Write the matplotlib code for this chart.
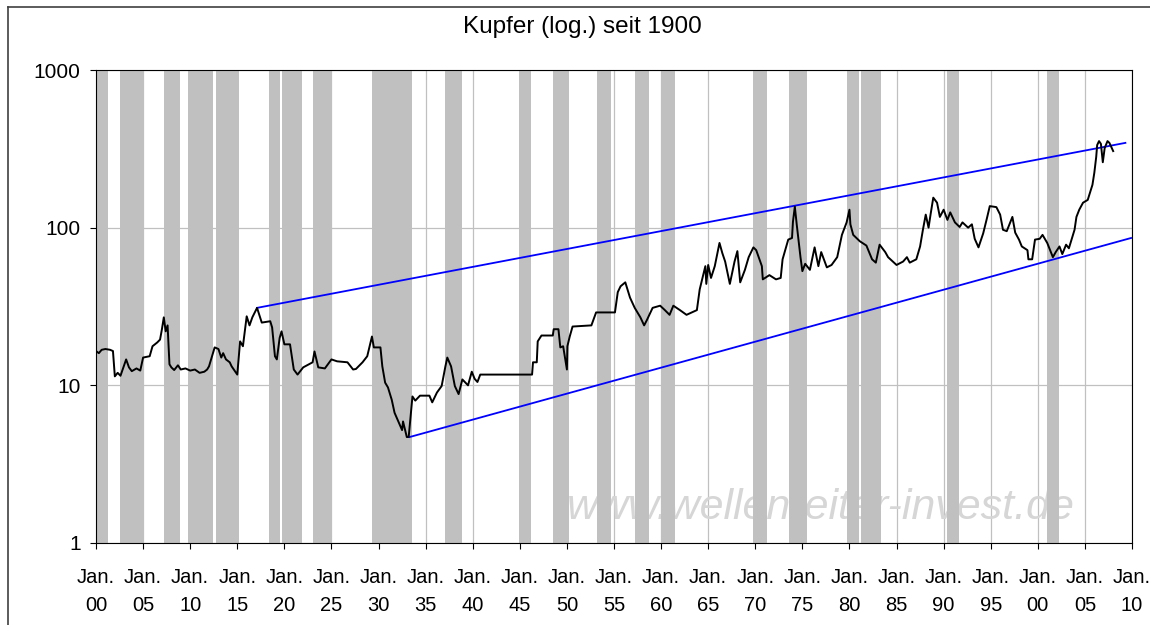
import matplotlib
matplotlib.use('Agg')
import matplotlib.pyplot as plt
from matplotlib.lines import Line2D

plt.rcParams['font.family'] = ['Liberation Sans', 'DejaVu Sans']

# copper price (year, value)
years = [1900.0, 1900.3, 1900.6, 1901.0, 1901.5, 1901.8, 1902.0, 1902.3, 1902.6, 1903.0,
         1903.2, 1903.5, 1903.8, 1904.3, 1904.7, 1905.0, 1905.7, 1906.0, 1906.5, 1906.8,
         1907.0, 1907.2, 1907.4, 1907.6, 1907.8, 1908.0, 1908.3, 1908.7, 1909.0, 1909.5,
         1910.0, 1910.5, 1911.0, 1911.5, 1911.8, 1912.0, 1912.6, 1913.0, 1913.3, 1913.5,
         1913.8, 1914.2, 1914.4, 1915.0, 1915.3, 1915.6, 1916.0, 1916.3, 1916.6, 1917.1,
         1917.6, 1918.5, 1918.7, 1919.0, 1919.2, 1919.5, 1919.7, 1920.0, 1920.6, 1921.0,
         1921.4, 1922.0, 1922.5, 1923.0, 1923.2, 1923.6, 1924.3, 1925.0, 1925.6, 1926.7,
         1927.3, 1927.6, 1928.3, 1928.8, 1929.3, 1929.5, 1930.2, 1930.4, 1930.7, 1931.0,
         1931.4, 1931.7, 1932.0, 1932.5, 1932.6, 1933.0, 1933.2, 1933.6, 1933.9, 1934.4,
         1935.4, 1935.7, 1936.2, 1936.7, 1937.1, 1937.3, 1937.7, 1938.1, 1938.5, 1938.9,
         1939.5, 1939.9, 1940.2, 1940.5, 1940.8, 1946.3, 1946.4, 1946.8, 1946.9, 1947.3,
         1948.5, 1948.6, 1949.1, 1949.3, 1949.6, 1950.0, 1950.05, 1950.3, 1950.6, 1952.6,
         1953.1, 1955.1, 1955.4, 1955.7, 1956.2, 1956.7, 1957.2, 1957.8, 1958.2, 1958.5,
         1959.1, 1959.9, 1960.4, 1960.9, 1961.3, 1962.0, 1962.7, 1963.8, 1964.1, 1964.7,
         1964.8, 1965.0, 1965.3, 1965.7, 1966.2, 1966.5, 1966.8, 1967.3, 1967.8, 1968.1,
         1968.4, 1968.9, 1969.3, 1969.8, 1970.1, 1970.7, 1970.8, 1971.5, 1972.2, 1972.7,
         1972.9, 1973.5, 1973.9, 1974.0, 1974.2, 1974.4, 1974.8, 1975.0, 1975.3, 1975.8,
         1976.3, 1976.7, 1977.0, 1977.6, 1978.1, 1978.7, 1979.2, 1979.7, 1980.0, 1980.1,
         1980.4, 1981.1, 1981.8, 1982.4, 1982.8, 1983.2, 1983.8, 1984.1, 1984.6, 1985.0,
         1985.7, 1986.1, 1986.4, 1987.1, 1987.5, 1987.8, 1988.1, 1988.4, 1988.6, 1988.9,
         1989.3, 1989.6, 1990.0, 1990.4, 1990.7, 1991.2, 1991.7, 1992.0, 1992.6, 1993.0,
         1993.3, 1993.7, 1994.2, 1994.6, 1994.9, 1995.6, 1996.0, 1996.3, 1996.7, 1997.3,
         1997.6, 1998.0, 1998.3, 1998.9, 1999.0, 1999.4, 1999.7, 2000.2, 2000.5, 2001.0,
         2001.6, 2001.9, 2002.3, 2002.6, 2003.0, 2003.3, 2003.9, 2004.1, 2004.4, 2004.8,
         2005.3, 2005.8, 2006.0, 2006.2, 2006.3, 2006.5, 2006.7, 2006.9, 2007.1, 2007.4,
         2007.6, 2008.0]
prices = [16.5, 16.0, 16.8, 17.0, 16.8, 16.5, 11.4, 12.0, 11.5, 13.5,
          14.6, 13.0, 12.3, 12.8, 12.4, 15.0, 15.3, 17.7, 18.7, 19.5,
          22.7, 27.0, 22.0, 24.0, 13.6, 13.0, 12.5, 13.4, 12.6, 12.8,
          12.4, 12.6, 12.0, 12.2, 12.6, 13.2, 17.4, 17.0, 15.0, 16.0,
          14.6, 14.0, 13.2, 11.7, 19.0, 17.7, 27.4, 24.0, 27.0, 31.0,
          25.0, 25.5, 23.3, 15.3, 14.6, 20.0, 22.0, 18.2, 18.2, 12.6,
          11.7, 13.0, 13.5, 14.0, 16.4, 13.0, 12.8, 14.6, 14.2, 14.0,
          12.6, 12.7, 14.0, 15.3, 20.4, 17.4, 17.4, 13.2, 10.4, 9.7,
          8.1, 6.7, 6.1, 5.2, 5.9, 4.7, 4.7, 8.5, 8.0, 8.6,
          8.6, 7.8, 9.0, 9.9, 13.2, 15.0, 13.2, 9.9, 8.8, 10.9,
          10.0, 12.2, 11.0, 10.5, 11.7, 11.7, 14.0, 14.0, 19.0, 20.7,
          20.7, 22.7, 22.7, 17.4, 17.7, 12.6, 17.7, 20.4, 23.6, 24.0,
          29.0, 29.0, 39.0, 42.5, 45.0, 36.0, 31.0, 27.0, 24.0, 26.0,
          31.0, 32.0, 30.0, 28.0, 32.0, 30.0, 28.0, 30.0, 40.6, 57.0,
          44.0, 58.0, 48.0, 57.0, 80.0, 69.0, 61.0, 44.0, 61.0, 71.0,
          45.0, 54.0, 65.0, 75.0, 72.0, 57.0, 47.0, 50.0, 47.0, 48.0,
          63.0, 84.0, 86.0, 109.0, 136.0, 105.0, 65.0, 53.0, 59.0, 54.0,
          75.0, 57.0, 70.0, 56.0, 58.0, 65.0, 90.0, 108.0, 130.0, 105.0,
          90.0, 82.0, 77.0, 63.0, 60.0, 78.0, 70.0, 65.0, 61.0, 58.0,
          61.0, 65.0, 60.0, 63.0, 76.0, 97.0, 121.0, 100.0, 120.0, 155.0,
          144.0, 117.0, 130.0, 112.0, 125.0, 108.0, 101.0, 108.0, 100.0, 105.0,
          85.0, 75.0, 92.0, 115.0, 137.0, 135.0, 121.0, 97.0, 95.0, 117.0,
          93.0, 84.0, 76.0, 72.0, 63.0, 63.0, 84.0, 85.0, 90.0, 80.0,
          65.0, 70.0, 76.0, 68.0, 78.0, 74.0, 97.0, 117.0, 130.0, 144.0,
          150.0, 187.0, 223.0, 281.0, 334.0, 354.0, 340.0, 260.0, 320.0, 354.0,
          345.0, 306.0]

# recession periods (grey bars)
rec_start = [1900.0, 1902.5, 1907.2, 1909.8, 1912.7, 1918.4, 1919.7, 1923.0, 1929.3, 1937.1,
             1944.9, 1948.5, 1953.2, 1957.2, 1960.0, 1969.8, 1973.6, 1979.7, 1981.2, 1990.4,
             2001.0]
rec_end = [1901.3, 1905.1, 1908.9, 1912.4, 1915.2, 1919.5, 1921.9, 1925.1, 1933.6, 1938.9,
           1946.2, 1950.2, 1954.7, 1958.7, 1961.5, 1971.2, 1975.5, 1981.0, 1983.4, 1991.6,
           2002.3]

# trend channel
upper_x = [1917.1, 2009.3]
upper_y = [31, 345]
lower_x = [1933.3, 2009.9]
lower_y = [4.7, 86]

tick_years = list(range(1900, 2011, 5))
tick_labels = ['Jan.\n%02d' % (y % 100) for y in tick_years]

fig = plt.figure(figsize=(11.5, 6.25), dpi=100)
ax = fig.add_axes([96 / 1150, 1 - 543 / 625, 1036 / 1150, 473 / 625])

ax.set_yscale('log')
ax.set_xlim(1900, 2010)
ax.set_ylim(1, 1000)
ax.set_axisbelow(True)
ax.grid(True, color='#c0c0c0', lw=0.9)

for s, e in zip(rec_start, rec_end):
    ax.axvspan(s, e, color='#c0c0c0', lw=0, zorder=1)

ax.text(0.70, 0.075, 'www.wellenreiter-invest.de', transform=ax.transAxes,
        ha='center', va='center', fontsize=31, style='italic', color='#d6d6d6', zorder=0.8)

ax.plot(upper_x, upper_y, color='#0000ff', lw=1.3, zorder=3)
ax.plot(lower_x, lower_y, color='#0000ff', lw=1.3, zorder=3)
ax.plot(years, prices, color='black', lw=1.4, zorder=4)

ax.set_yticks([1, 10, 100, 1000])
ax.set_yticklabels(['1', '10', '100', '1000'])
ax.yaxis.set_minor_locator(matplotlib.ticker.NullLocator())
ax.set_xticks(tick_years)
ax.set_xticklabels(tick_labels, linespacing=1.6)
ax.tick_params(axis='both', direction='out', length=4, width=0.8, labelsize=14.5, colors='black')
ax.tick_params(axis='y', labelsize=15)
ax.tick_params(axis='x', pad=14)
ax.tick_params(axis='y', pad=7)
for sp in ax.spines.values():
    sp.set_color('black')
    sp.set_linewidth(0.8)
    sp.set_zorder(5)

fig.text(582 / 1150, 1 - 27 / 625, 'Kupfer (log.) seit 1900', ha='center', va='center', fontsize=17.5)

# outer chart frame (only top and left edge visible)
fig.add_artist(Line2D([8 / 1150, 1], [1 - 7 / 625, 1 - 7 / 625], color='#404040', lw=1.2))
fig.add_artist(Line2D([8 / 1150, 8 / 1150], [0, 1 - 7 / 625], color='#404040', lw=1.2))

fig.savefig('out.png', dpi=100)
